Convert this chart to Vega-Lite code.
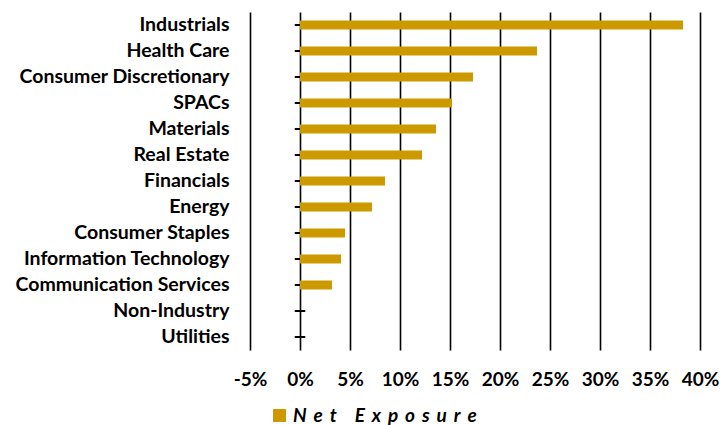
{
  "$schema": "https://vega.github.io/schema/vega-lite/v6.json",
  "width": 450,
  "height": 338,
  "autosize": {"type": "none"},
  "padding": {"left": 250, "top": 12, "right": 22, "bottom": 75},
  "background": "white",
  "config": {
    "view": {"stroke": null},
    "font": "Lato"
  },
  "data": {
    "values": [
      {"sector": "Industrials", "value": 38.3, "series": "Net Exposure"},
      {"sector": "Health Care", "value": 23.7, "series": "Net Exposure"},
      {"sector": "Consumer Discretionary", "value": 17.3, "series": "Net Exposure"},
      {"sector": "SPACs", "value": 15.2, "series": "Net Exposure"},
      {"sector": "Materials", "value": 13.6, "series": "Net Exposure"},
      {"sector": "Real Estate", "value": 12.2, "series": "Net Exposure"},
      {"sector": "Financials", "value": 8.5, "series": "Net Exposure"},
      {"sector": "Energy", "value": 7.2, "series": "Net Exposure"},
      {"sector": "Consumer Staples", "value": 4.5, "series": "Net Exposure"},
      {"sector": "Information Technology", "value": 4.1, "series": "Net Exposure"},
      {"sector": "Communication Services", "value": 3.2, "series": "Net Exposure"},
      {"sector": "Non-Industry", "value": 0, "series": "Net Exposure"},
      {"sector": "Utilities", "value": 0, "series": "Net Exposure"}
    ]
  },
  "encoding": {
    "y": {
      "field": "sector",
      "type": "nominal",
      "sort": null,
      "title": null,
      "scale": {"paddingInner": 0, "paddingOuter": 0},
      "axis": {
        "ticks": false,
        "domain": false,
        "labelPadding": 21,
        "labelFont": "Lato",
        "labelFontWeight": "bold",
        "labelFontSize": 19.5,
        "labelColor": "black",
        "labelLimit": 300,
        "labelOverlap": false
      }
    }
  },
  "layer": [
    {
      "mark": {"type": "point", "shape": "stroke", "size": 110, "stroke": "black", "strokeWidth": 2, "filled": false, "opacity": 1},
      "encoding": {
        "x": {"datum": 0, "type": "quantitative"}
      }
    },
    {
      "mark": {"type": "bar", "height": 9, "color": "#CC9A00"},
      "encoding": {
        "x": {
          "field": "value",
          "type": "quantitative",
          "title": null,
          "scale": {"domain": [-5, 40], "nice": false},
          "axis": {
            "values": [-5, 0, 5, 10, 15, 20, 25, 30, 35, 40],
            "labelExpr": "datum.value + '%'",
            "labelOverlap": false,
            "labelBound": false,
            "labelFlush": false,
            "grid": true,
            "gridColor": "black",
            "gridWidth": 1.6,
            "gridOpacity": 1,
            "ticks": false,
            "domain": false,
            "labelPadding": 20,
            "labelFont": "Lato",
            "labelFontWeight": "bold",
            "labelFontSize": 19,
            "labelColor": "black"
          }
        },
        "color": {
          "field": "series",
          "type": "nominal",
          "scale": {"range": ["#CC9A00"]},
          "legend": {
            "title": null,
            "orient": "none",
            "legendX": 20,
            "legendY": 394,
            "symbolType": "square",
            "symbolSize": 169,
            "symbolStrokeWidth": 0,
            "symbolOpacity": 1,
            "labelFont": "Lato",
            "labelFontWeight": "bold",
            "labelFontStyle": "italic",
            "labelFontSize": 19,
            "labelColor": "black",
            "labelOffset": 4,
            "labelLimit": 400,
            "labelExpr": "join(split(datum.label, ''), '\u2004\u200a')"
          }
        }
      }
    }
  ]
}
